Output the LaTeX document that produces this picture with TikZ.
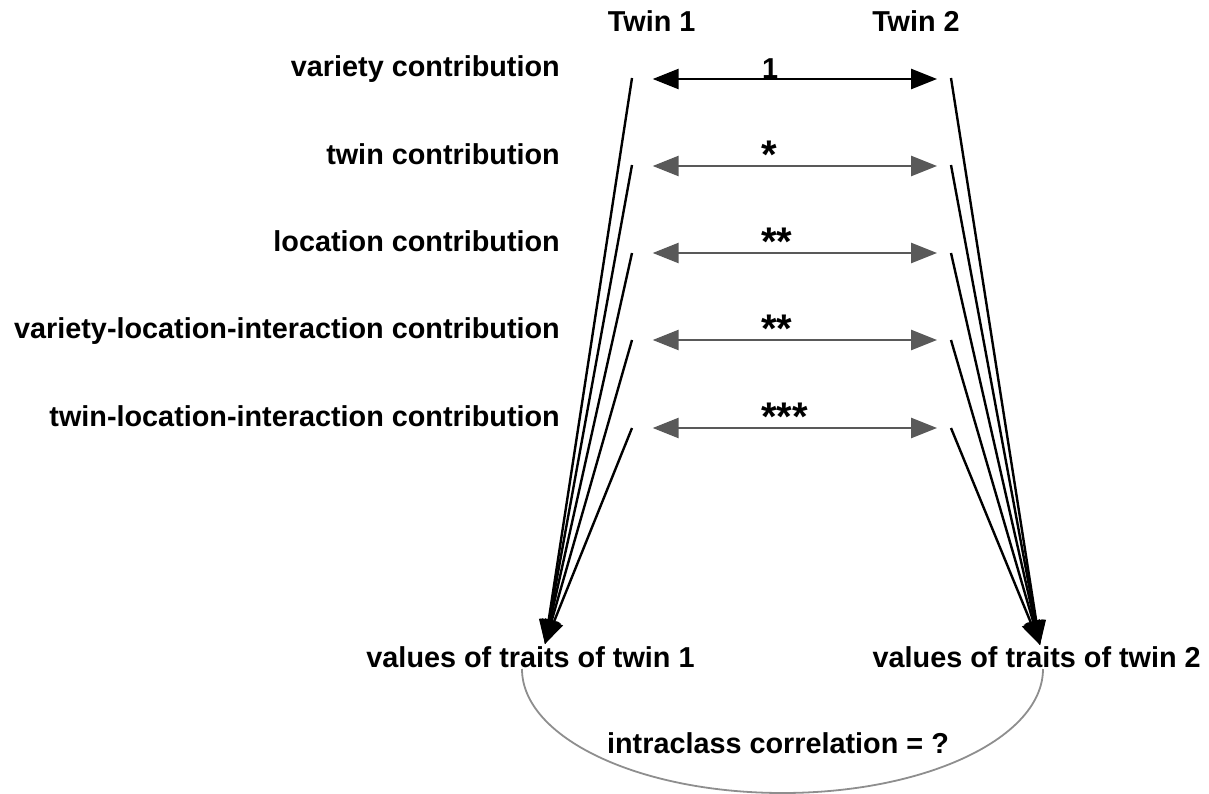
\documentclass[tikz,border=0pt]{standalone}
\usepackage{fontspec}
\setmainfont{Liberation Sans}
\usetikzlibrary{arrows.meta}
\definecolor{arrgray}{HTML}{595959}
\definecolor{arcgray}{HTML}{8E8E8E}
\begin{document}
\begin{tikzpicture}[x=1bp,y=-1bp,
  lbl/.style={font=\fontsize{28.8bp}{34bp}\selectfont\bfseries, inner sep=0pt},
  star/.style={font=\fontsize{40bp}{44bp}\selectfont\bfseries, inner sep=0pt},
  conv/.style={line width=2.4bp, -{Triangle[length=24bp,width=19bp]}},
  biarrow/.style={line width=2.6bp, {Triangle[length=26bp,width=20bp]}-{Triangle[length=26bp,width=20bp]}},
  corrarc/.style={draw=arcgray, line width=1.8bp}]
\useasboundingbox (0,0) rectangle (1209,794);
% headers
\node[lbl, anchor=base] (tw1) at (651.7,32) {Twin 1};
\node[lbl, anchor=base] (tw2) at (916,32) {Twin 2};
% row labels
\node[lbl, anchor=base east] (r1) at (560,77) {variety contribution};
\node[lbl, anchor=base east] (r2) at (560,164) {twin contribution};
\node[lbl, anchor=base east] (r3) at (560,251) {location contribution};
\node[lbl, anchor=base east] (r4) at (560,338) {variety-location-interaction contribution};
\node[lbl, anchor=base east] (r5) at (560,426) {twin-location-interaction contribution};
% line start points
\coordinate (L1) at (632,78);  \coordinate (R1) at (951,78);
\coordinate (L2) at (632,165); \coordinate (R2) at (951,165);
\coordinate (L3) at (632,253); \coordinate (R3) at (951,253);
\coordinate (L4) at (632,340); \coordinate (R4) at (951,340);
\coordinate (L5) at (632,428); \coordinate (R5) at (951,428);
% horizontal arrow ends
\coordinate (A1) at (652.7,79);  \coordinate (B1) at (937,79);
\coordinate (A2) at (652.7,166); \coordinate (B2) at (937,166);
\coordinate (A3) at (652.7,253); \coordinate (B3) at (937,253);
\coordinate (A4) at (652.7,340); \coordinate (B4) at (937,340);
\coordinate (A5) at (652.7,428); \coordinate (B5) at (937,428);
% bottom labels
\node[lbl, anchor=base] (v1) at (530.5,667) {values of traits of twin 1};
\node[lbl, anchor=base] (v2) at (1036.7,667) {values of traits of twin 2};
\node[lbl, anchor=base] (icc) at (778,753) {intraclass correlation = ?};
\coordinate (T1) at (545,644);
\coordinate (T2) at (1040,645);
% converging arrows
\foreach \k in {1,...,5}{
  \draw[conv] (L\k) -- (T1);
  \draw[conv] (R\k) -- (T2);
}
% correlation arrows
\draw[biarrow, draw=black, fill=black] (A1) -- (B1);
\draw[biarrow, draw=arrgray, fill=arrgray] (A2) -- (B2);
\draw[biarrow, draw=arrgray, fill=arrgray] (A3) -- (B3);
\draw[biarrow, draw=arrgray, fill=arrgray] (A4) -- (B4);
\draw[biarrow, draw=arrgray, fill=arrgray] (A5) -- (B5);
\node[lbl, anchor=base west] (s1) at (762,79) {1};
\node[star, anchor=base west] (s2) at (761,168) {*};
\node[star, anchor=base west] (s3) at (761,255) {**};
\node[star, anchor=base west] (s4) at (761,342) {**};
\node[star, anchor=base west] (s5) at (761,430) {***};
% intraclass correlation arc
\coordinate (C1) at (522,669);
\coordinate (C2) at (1043,669);
\coordinate (Cb) at (782.5,793);
\draw[corrarc] (C1) .. controls (522,737.5) and (638.6,793) .. (Cb)
               .. controls (926.4,793) and (1043,737.5) .. (C2);
\end{tikzpicture}
\end{document}
